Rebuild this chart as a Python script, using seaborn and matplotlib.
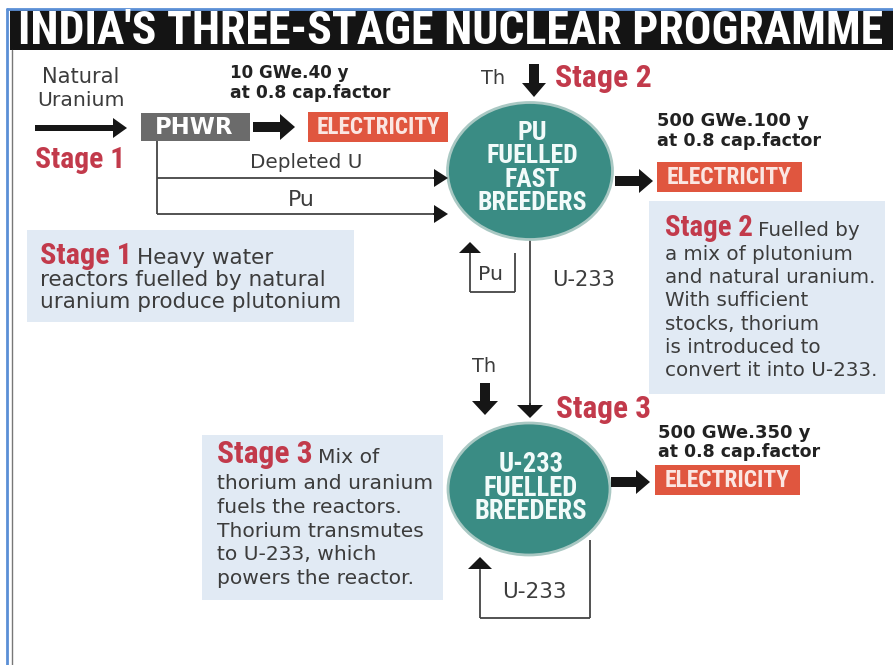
import matplotlib
matplotlib.use("Agg")
import matplotlib.pyplot as plt
import seaborn as sns
from matplotlib import font_manager
from matplotlib.patches import Rectangle, Ellipse, FancyArrow

# Texts of the infographic
title = "INDIA'S THREE-STAGE NUCLEAR PROGRAMME"
stages = ["Stage 1", "Stage 2", "Stage 3"]
reactors = ["PHWR", "PU\nFUELLED\nFAST\nBREEDERS", "U-233\nFUELLED\nBREEDERS"]
output_label = "ELECTRICITY"
capacity = ["10 GWe.40 y", "500 GWe.100 y", "500 GWe.350 y"]
cap_factor = "at 0.8 cap.factor"
feed = ["Natural", "Uranium"]
thorium = "Th"
stage1_flows = ["Depleted U", "Pu"]
recycle = ["Pu", "U-233"]
transfer = "U-233"
desc_stage1 = ["Heavy water", "reactors fuelled by natural", "uranium produce plutonium"]
desc_stage2 = ["Fuelled by", "a mix of plutonium", "and natural uranium.", "With sufficient",
               "stocks, thorium", "is introduced to", "convert it into U-233."]
desc_stage3 = ["Mix of", "thorium and uranium", "fuels the reactors.", "Thorium transmutes",
               "to U-233, which", "powers the reactor."]

sns.set_theme(style="white")
installed = {f.name for f in font_manager.fontManager.ttflist}
NARROW = next((f for f in ["Liberation Sans Narrow", "DejaVu Sans Condensed", "Roboto Condensed"]
               if f in installed), "DejaVu Sans")
BODY = "DejaVu Sans"
plt.rcParams["font.family"] = [BODY]

RED = "#c23a4b"
TEAL = "#3a8c84"
BOXBLUE = "#e1eaf4"
ELEC = "#e0563f"
GREY = "#3c3c3c"
INK = "#161616"

fig = plt.figure(figsize=(8.93, 6.65), dpi=100)
ax = fig.add_axes([0, 0, 1, 1])
ax.set_xlim(0, 893)
ax.set_ylim(665, 0)
ax.axis("off")
fig.patch.set_facecolor("white")
r = fig.canvas.get_renderer()


def fit(t, width):
    w = t.get_window_extent(r).width
    t.set_fontsize(t.get_fontsize() * width / w)
    return t


def right_edge(t):
    ext = t.get_window_extent(r)
    return ax.transData.inverted().transform((ext.x1, ext.y0))[0]


def arrow(x, y, dx, dy, w, hw, hl, color=INK):
    ax.add_patch(FancyArrow(x, y, dx, dy, width=w, head_width=hw, head_length=hl,
                            length_includes_head=True, color=color, lw=0, zorder=4))


def line(xs, ys):
    ax.plot(xs, ys, color="#444444", lw=1.3, zorder=2, solid_capstyle="butt")


def label(x, y, s, width, **kw):
    kw.setdefault("color", GREY)
    kw.setdefault("ha", "center")
    kw.setdefault("va", "center")
    return fit(ax.text(x, y, s, fontsize=12, zorder=5, **kw), width)


def description(x, baselines, stage, lines, stage_w, ref_idx, ref_w):
    s = ax.text(x, baselines[0], stage, color=RED, family=NARROW, fontweight="bold",
                fontsize=16, va="baseline", zorder=5)
    fit(s, stage_w)
    ref = ax.text(0, 0, lines[ref_idx], fontsize=12)
    fit(ref, ref_w)
    size = ref.get_fontsize()
    ref.remove()
    ax.text(right_edge(s) + 5, baselines[0], lines[0], color=GREY, fontsize=size,
            va="baseline", zorder=5)
    for yb, txt in zip(baselines[1:], lines[1:]):
        ax.text(x, yb, txt, color=GREY, fontsize=size, va="baseline", zorder=5)


def reactor_text(cx, cy, s, width, step):
    # one multi-line text, line step tuned to the reference spacing
    rows = s.split("\n")
    ls = 1.0
    t = ax.text(cx, cy, s, color="#f2fbfa", family=NARROW, fontweight="bold", fontsize=12,
                ha="center", va="center", multialignment="center", linespacing=ls, zorder=5)
    fit(t, width)
    one = ax.text(0, 0, rows[0], family=NARROW, fontweight="bold", fontsize=t.get_fontsize())
    h1 = one.get_window_extent(r).height
    one.remove()
    for _ in range(4):
        cur = (t.get_window_extent(r).height - h1) / (len(rows) - 1)
        ls = ls * step / cur
        t.set_linespacing(ls)
    return t


# Frame and title bar
ax.plot([7, 7], [9, 665], color="#5b8fd6", lw=2)
ax.plot([7, 893], [9, 9], color="#5b8fd6", lw=2)
ax.plot([11.5, 11.5], [50, 665], color="#777777", lw=1)
ax.add_patch(Rectangle((10, 10), 883, 40, fc="#141414", ec="none"))
label(451, 31, title, 866, color="white", family=NARROW, fontweight="bold")

# Stage 1
label(81, 77, feed[0], 77, ha="center")
label(81, 100, feed[1], 87, ha="center")
arrow(35, 128, 92, 0, 6, 20, 14)
label(80, 160, stages[0], 90, color=RED, family=NARROW, fontweight="bold")
ax.add_patch(Rectangle((141, 113), 109, 28, fc="#6b6b6b", ec="none", zorder=3))
label(194, 127.5, reactors[0], 78, color="white", fontweight="bold")
arrow(253, 127, 42, 0, 10, 26, 15)
ax.add_patch(Rectangle((308, 112), 140, 30, fc=ELEC, ec="none", zorder=3))
label(378, 127.5, output_label, 122, color="#fbe6e2", family=NARROW, fontweight="bold")
label(230, 73, capacity[0], 118, ha="left", color="#222222", fontweight="bold")
label(230, 93, cap_factor, 160, ha="left", color="#222222", fontweight="bold")

line([157, 157], [141, 214])
line([157, 440], [178, 178])
line([157, 440], [214, 214])
arrow(433, 178, 15, 0, 1.3, 18, 14)
arrow(433, 214, 15, 0, 1.3, 18, 14)
label(306, 162, stage1_flows[0], 112)
label(301, 200, stage1_flows[1], 27)

ax.add_patch(Rectangle((27, 230), 327, 92, fc=BOXBLUE, ec="none"))
description(40, [264, 286, 308], stages[0], desc_stage1, 92, 1, 285)

# Stage 2
label(493, 79, thorium, 24)
arrow(534, 64, 0, 33, 10, 24, 14)
s2 = ax.text(555, 87, stages[1], color=RED, family=NARROW, fontweight="bold",
             fontsize=16, va="baseline", zorder=5)
fit(s2, 97)
line([530, 530], [240, 405])
arrow(530, 403, 0, 15, 1.3, 26, 13)
ax.add_patch(Ellipse((530, 171), 165, 137, fc=TEAL, ec="#a9c8c3", lw=2, zorder=3))
reactor_text(532, 168, reactors[1], 110, 23.3)

arrow(615, 181, 38, 0, 10, 24, 14)
ax.add_patch(Rectangle((657, 162), 145, 30, fc=ELEC, ec="none", zorder=3))
label(729.5, 177.5, output_label, 124, color="#fbe6e2", family=NARROW, fontweight="bold")
label(657, 121, capacity[1], 151, ha="left", color="#222222", fontweight="bold")
label(657, 141, cap_factor, 163, ha="left", color="#222222", fontweight="bold")

line([470, 470], [252, 292])
line([470, 515], [292, 292])
line([515, 515], [292, 253])
arrow(470, 253, 0, -11, 1.3, 22, 11)
label(491, 274, recycle[0], 25)
label(584, 280, transfer, 63)

ax.add_patch(Rectangle((649, 201), 236, 193, fc=BOXBLUE, ec="none"))
description(665, [236, 260, 283, 306, 330, 353, 376], stages[1], desc_stage2, 88, 2, 210)

# Stage 3
label(484, 366, thorium, 24)
arrow(485, 383, 0, 32, 10, 26, 14)
s3 = ax.text(556, 418, stages[2], color=RED, family=NARROW, fontweight="bold",
             fontsize=16, va="baseline", zorder=5)
fit(s3, 95)
ax.add_patch(Ellipse((529, 489), 162, 132, fc=TEAL, ec="#a9c8c3", lw=2, zorder=3))
reactor_text(531, 488, reactors[2], 113, 23.5)

arrow(611, 482, 39, 0, 10, 24, 14)
ax.add_patch(Rectangle((655, 465), 145, 30, fc=ELEC, ec="none", zorder=3))
label(727.5, 480.5, output_label, 124, color="#fbe6e2", family=NARROW, fontweight="bold")
label(658, 433, capacity[2], 152, ha="left", color="#222222", fontweight="bold")
label(658, 452, cap_factor, 162, ha="left", color="#222222", fontweight="bold")

line([480, 480], [570, 618])
line([480, 590], [618, 618])
line([590, 590], [618, 540])
arrow(480, 570, 0, -13, 1.3, 24, 12)
label(534, 592, recycle[1], 65)

ax.add_patch(Rectangle((202, 435), 241, 165, fc=BOXBLUE, ec="none"))
description(217, [463, 489, 513, 537, 560, 584], stages[2], desc_stage3, 96, 1, 214)

fig.savefig("out.png", dpi=100, facecolor="white")
